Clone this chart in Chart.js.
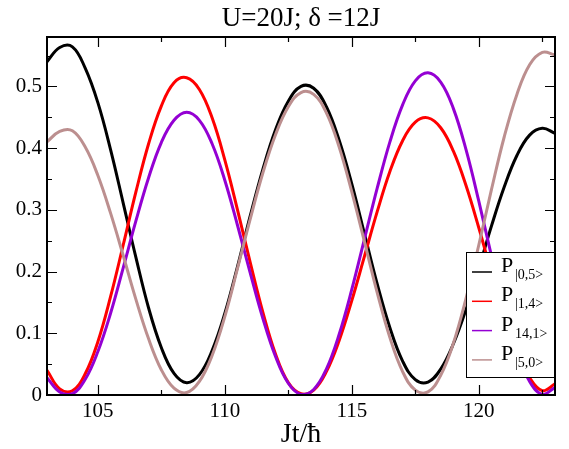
<!DOCTYPE html>
<html>
<head>
<meta charset="utf-8">
<script src="https://cdn.jsdelivr.net/npm/chart.js@4/dist/chart.umd.min.js"></script>
<style>
  html, body { margin: 0; padding: 0; background: #fff; }
  #wrap { width: 569px; height: 449px; }
</style>
</head>
<body>
<div id="wrap"><canvas id="c" width="569" height="449"></canvas></div>
<script>
// Time axis, Jt/hbar
const times = [103, 103.5, 104, 104.5, 105, 105.5, 106, 106.5, 107, 107.5,
  108, 108.5, 109, 109.5, 110, 110.5, 111, 111.5, 112, 112.5,
  113, 113.5, 114, 114.5, 115, 115.5, 116, 116.5, 117, 117.5,
  118, 118.5, 119, 119.5, 120, 120.5, 121, 121.5, 122, 122.5, 123];

// Occupation probabilities of each Fock state
const p05 = [0.540, 0.563, 0.564, 0.530, 0.474, 0.398, 0.311, 0.223, 0.141, 0.077,
  0.035, 0.020, 0.033, 0.072, 0.132, 0.208, 0.290, 0.366, 0.430, 0.476,
  0.500, 0.497, 0.467, 0.413, 0.342, 0.261, 0.180, 0.109, 0.055, 0.025,
  0.021, 0.042, 0.083, 0.139, 0.205, 0.274, 0.337, 0.388, 0.421, 0.432, 0.424];
const p14 = [0.040, 0.010, 0.007, 0.034, 0.086, 0.159, 0.243, 0.329, 0.407, 0.468,
  0.506, 0.514, 0.495, 0.449, 0.381, 0.300, 0.215, 0.134, 0.066, 0.020,
  0.002, 0.008, 0.038, 0.088, 0.153, 0.225, 0.297, 0.362, 0.412, 0.442,
  0.449, 0.433, 0.395, 0.339, 0.271, 0.198, 0.129, 0.070, 0.028, 0.007, 0.018];
const p41 = [0.028, 0.005, 0.002, 0.025, 0.070, 0.132, 0.206, 0.282, 0.352, 0.409,
  0.445, 0.458, 0.445, 0.407, 0.348, 0.275, 0.198, 0.124, 0.062, 0.019,
  0.001, 0.009, 0.042, 0.098, 0.171, 0.253, 0.335, 0.410, 0.470, 0.509,
  0.522, 0.507, 0.464, 0.397, 0.314, 0.225, 0.141, 0.070, 0.022, 0.001, 0.012];
const p50 = [0.410, 0.427, 0.428, 0.402, 0.356, 0.295, 0.226, 0.155, 0.091, 0.041,
  0.011, 0.004, 0.022, 0.064, 0.127, 0.205, 0.285, 0.360, 0.422, 0.467,
  0.490, 0.487, 0.457, 0.402, 0.329, 0.248, 0.166, 0.093, 0.038, 0.008,
  0.005, 0.032, 0.084, 0.157, 0.243, 0.333, 0.418, 0.487, 0.535, 0.555, 0.551];

// Tick positions: labelled majors plus unlabelled minors
const xTicks = [105, 107.5, 110, 112.5, 115, 117.5, 120, 122.5];
const xMajor = [105, 110, 115, 120];
const yTicks = [0, 0.05, 0.1, 0.15, 0.2, 0.25, 0.3, 0.35, 0.4, 0.45, 0.5, 0.55];
const yMajor = [0, 0.1, 0.2, 0.3, 0.4, 0.5];

const seriesNames = ['|0,5>', '|1,4>', '14,1>', '|5,0>'];
const seriesColors = ['#000000', '#ff0000', '#9400d3', '#bc8f8f'];
const seriesValues = [p05, p14, p41, p50];

const titleText = 'U=20J; \u03b4 =12J';
const xTitle = 'Jt/\u0127';
const SERIF = '"Liberation Serif", "DejaVu Serif", serif';

const inList = (v, list) => list.some(m => Math.abs(m - v) < 1e-6);

const datasets = seriesValues.map((vals, i) => ({
  label: 'P' + seriesNames[i],
  data: times.map((t, k) => ({ x: t, y: vals[k] })),
  borderColor: seriesColors[i],
  backgroundColor: seriesColors[i],
  borderWidth: 3,
  pointRadius: 0,
  tension: 0.4,
  fill: false,
  order: 4 - i
}));

// Frame, inward ticks, title, axis title and legend box
const decor = {
  id: 'decor',
  afterDraw(chart) {
    const ctx = chart.ctx;
    const a = chart.chartArea;
    const xs = chart.scales.x, ys = chart.scales.y;
    ctx.save();
    ctx.strokeStyle = '#000';
    ctx.lineWidth = 1.2;
    ctx.beginPath();
    xs.ticks.forEach(t => {
      const px = Math.round(xs.getPixelForValue(t.value)) + 0.5;
      const len = inList(t.value, xMajor) ? 10 : 5;
      ctx.moveTo(px, a.bottom); ctx.lineTo(px, a.bottom - len);
      ctx.moveTo(px, a.top); ctx.lineTo(px, a.top + len);
    });
    ys.ticks.forEach(t => {
      const py = Math.round(ys.getPixelForValue(t.value)) + 0.5;
      if (py >= a.bottom - 1) return;
      const len = inList(t.value, yMajor) ? 10 : 5;
      ctx.moveTo(a.left, py); ctx.lineTo(a.left + len, py);
      ctx.moveTo(a.right, py); ctx.lineTo(a.right - len, py);
    });
    ctx.stroke();

    // legend
    const lx = 466, ly = 252, lw = 88, lh = 125;
    ctx.fillStyle = '#fff';
    ctx.fillRect(lx, ly, lw, lh);
    ctx.lineWidth = 1;
    ctx.strokeStyle = '#000';
    ctx.strokeRect(lx + 0.5, ly + 0.5, lw, lh);
    seriesNames.forEach((name, i) => {
      const y = 272 + i * 29.3;
      ctx.strokeStyle = seriesColors[i];
      ctx.lineWidth = 1.5;
      ctx.beginPath();
      ctx.moveTo(472, y); ctx.lineTo(492, y);
      ctx.stroke();
      ctx.fillStyle = '#000';
      ctx.textAlign = 'left';
      ctx.textBaseline = 'alphabetic';
      ctx.font = '22px ' + SERIF;
      ctx.fillText('P', 501, y);
      ctx.font = '14px ' + SERIF;
      ctx.fillText(name, 515, y + 7);
    });

    // frame
    ctx.strokeStyle = '#000';
    ctx.lineWidth = 2;
    ctx.strokeRect(a.left, a.top, a.right - a.left, a.bottom - a.top);

    // titles
    ctx.fillStyle = '#000';
    ctx.textAlign = 'center';
    ctx.textBaseline = 'alphabetic';
    ctx.font = '27px ' + SERIF;
    ctx.fillText(titleText, (a.left + a.right) / 2, 26);
    ctx.font = '28px ' + SERIF;
    ctx.fillText(xTitle, (a.left + a.right) / 2, 442);
    ctx.restore();
  }
};

new Chart(document.getElementById('c'), {
  type: 'line',
  data: { datasets },
  plugins: [decor],
  options: {
    responsive: false,
    animation: false,
    events: [],
    layout: { padding: { top: 37, right: 14, left: 0, bottom: 0 } },
    plugins: { legend: { display: false }, title: { display: false }, tooltip: { enabled: false } },
    scales: {
      x: {
        type: 'linear',
        min: 103, max: 123,
        grid: { display: false, drawTicks: false },
        border: { display: false },
        afterFit(s) { s.height = 54; },
        afterBuildTicks(s) { s.ticks = xTicks.map(v => ({ value: v })); },
        ticks: {
          autoSkip: false,
          maxRotation: 0,
          padding: 4,
          color: '#000',
          font: { family: SERIF, size: 21 },
          callback: v => inList(v, xMajor) ? String(v) : ''
        }
      },
      y: {
        type: 'linear',
        min: 0, max: 0.58,
        grid: { display: false, drawTicks: false },
        border: { display: false },
        afterFit(s) { s.width = 47; },
        afterBuildTicks(s) { s.ticks = yTicks.map(v => ({ value: v })); },
        ticks: {
          autoSkip: false,
          padding: 5,
          color: '#000',
          font: { family: SERIF, size: 21 },
          callback: v => inList(v, yMajor) ? String(v) : ''
        }
      }
    }
  }
});
</script>
</body>
</html>
